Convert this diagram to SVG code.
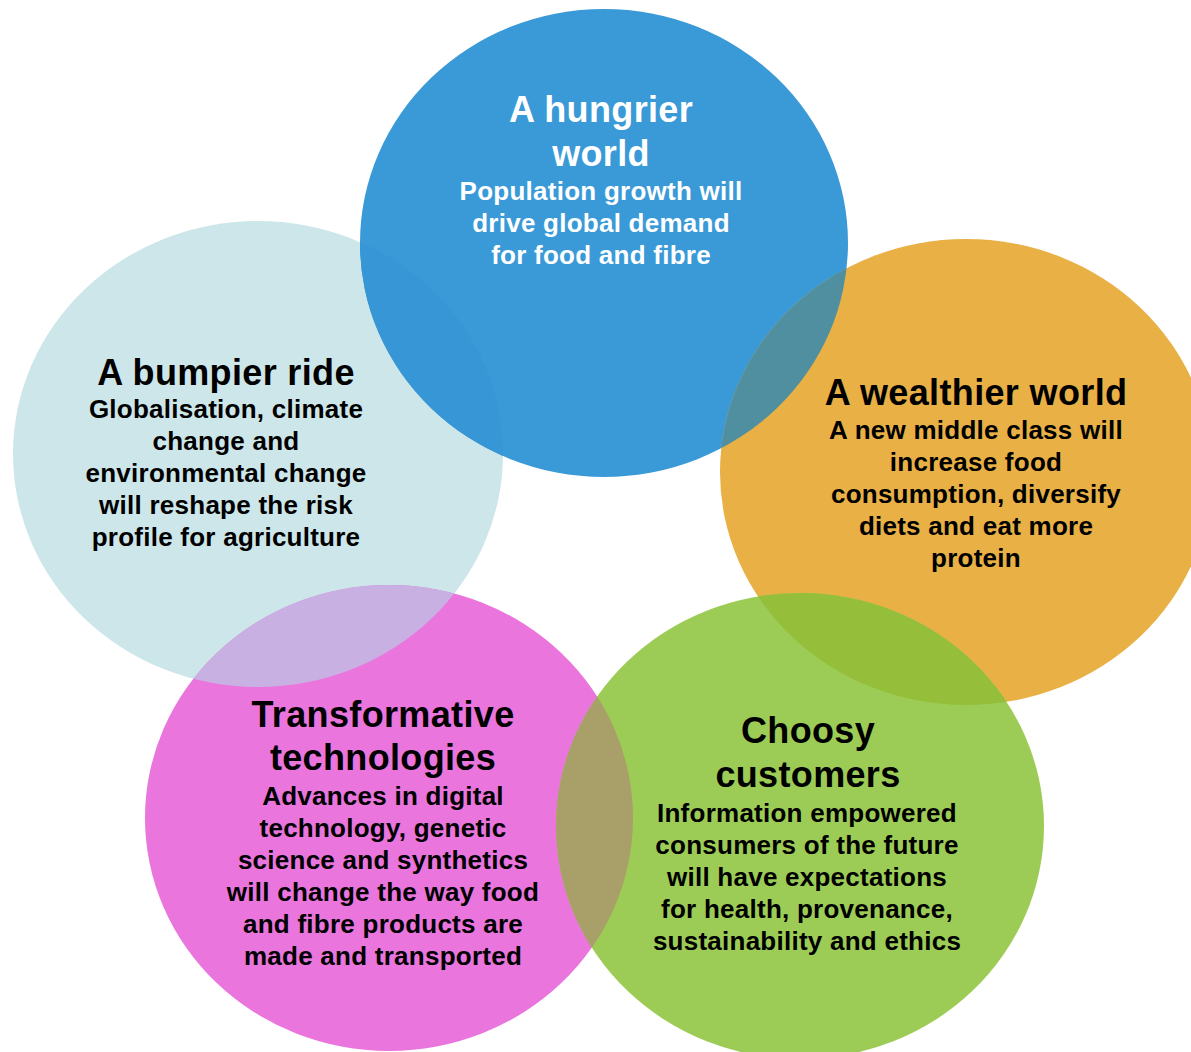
<svg xmlns="http://www.w3.org/2000/svg" width="1191" height="1052" viewBox="0 0 1191 1052">
  <style>
    .title { font-family: "Liberation Sans", Arial, Helvetica, sans-serif; font-weight: bold; font-size: 36px; letter-spacing: 0.35px; text-anchor: middle; }
    .body  { font-family: "Liberation Sans", Arial, Helvetica, sans-serif; font-weight: bold; font-size: 26px; letter-spacing: 0.25px; text-anchor: middle; }
    .dark  { fill: #000000; }
    .light { fill: #ffffff; }
  </style>
  <defs>
    <clipPath id="clip-teal"><ellipse cx="258" cy="454" rx="245" ry="233"/></clipPath>
    <clipPath id="clip-blue"><ellipse cx="604" cy="243" rx="244" ry="234"/></clipPath>
    <clipPath id="clip-magenta"><ellipse cx="389" cy="818" rx="244" ry="233"/></clipPath>
    <clipPath id="clip-orange"><ellipse cx="966" cy="472" rx="246" ry="233"/></clipPath>
  </defs>

  <rect width="1191" height="1052" fill="#ffffff"/>

  <!-- A bumpier ride -->
  <g id="node-bumpier-ride">
    <ellipse cx="258" cy="454" rx="245" ry="233" fill="#cde6e9"/>
    <text class="title dark" x="226" y="385">A bumpier ride</text>
    <text class="body dark" x="226" y="418">Globalisation, climate</text>
    <text class="body dark" x="226" y="450">change and</text>
    <text class="body dark" x="226" y="482">environmental change</text>
    <text class="body dark" x="226" y="514">will reshape the risk</text>
    <text class="body dark" x="226" y="546">profile for agriculture</text>
  </g>

  <!-- A hungrier world -->
  <g id="node-hungrier-world">
    <ellipse cx="604" cy="243" rx="244" ry="234" fill="#3a9ad7"/>
    <ellipse cx="604" cy="243" rx="244" ry="234" fill="#3796d5" clip-path="url(#clip-teal)"/>
    <text class="title light" x="601" y="122">A hungrier</text>
    <text class="title light" x="601" y="166">world</text>
    <text class="body light" x="601" y="200">Population growth will</text>
    <text class="body light" x="601" y="232">drive global demand</text>
    <text class="body light" x="601" y="264">for food and fibre</text>
  </g>

  <!-- A wealthier world -->
  <g id="node-wealthier-world">
    <ellipse cx="966" cy="472" rx="246" ry="233" fill="#e8b045"/>
    <ellipse cx="966" cy="472" rx="246" ry="233" fill="#508f9f" clip-path="url(#clip-blue)"/>
    <text class="title dark" x="976" y="405">A wealthier world</text>
    <text class="body dark" x="976" y="439">A new middle class will</text>
    <text class="body dark" x="976" y="471">increase food</text>
    <text class="body dark" x="976" y="503">consumption, diversify</text>
    <text class="body dark" x="976" y="535">diets and eat more</text>
    <text class="body dark" x="976" y="567">protein</text>
  </g>

  <!-- Transformative technologies -->
  <g id="node-transformative-technologies">
    <ellipse cx="389" cy="818" rx="244" ry="233" fill="#e975dd"/>
    <ellipse cx="389" cy="818" rx="244" ry="233" fill="#c9b0e3" clip-path="url(#clip-teal)"/>
    <text class="title dark" x="383" y="727">Transformative</text>
    <text class="title dark" x="383" y="770">technologies</text>
    <text class="body dark" x="383" y="805">Advances in digital</text>
    <text class="body dark" x="383" y="837">technology, genetic</text>
    <text class="body dark" x="383" y="869">science and synthetics</text>
    <text class="body dark" x="383" y="901">will change the way food</text>
    <text class="body dark" x="383" y="933">and fibre products are</text>
    <text class="body dark" x="383" y="965">made and transported</text>
  </g>

  <!-- Choosy customers -->
  <g id="node-choosy-customers">
    <ellipse cx="800" cy="826" rx="244" ry="233" fill="#9ccc55"/>
    <ellipse cx="800" cy="826" rx="244" ry="233" fill="#95bf3a" clip-path="url(#clip-orange)"/>
    <ellipse cx="800" cy="826" rx="244" ry="233" fill="#a8a068" clip-path="url(#clip-magenta)"/>
    <text class="title dark" x="808" y="743">Choosy</text>
    <text class="title dark" x="808" y="787">customers</text>
    <text class="body dark" x="807" y="822">Information empowered</text>
    <text class="body dark" x="807" y="854">consumers of the future</text>
    <text class="body dark" x="807" y="886">will have expectations</text>
    <text class="body dark" x="807" y="918">for health, provenance,</text>
    <text class="body dark" x="807" y="950">sustainability and ethics</text>
  </g>

  <!-- no connectors in this figure -->
  <g id="connectors"/>
</svg>
